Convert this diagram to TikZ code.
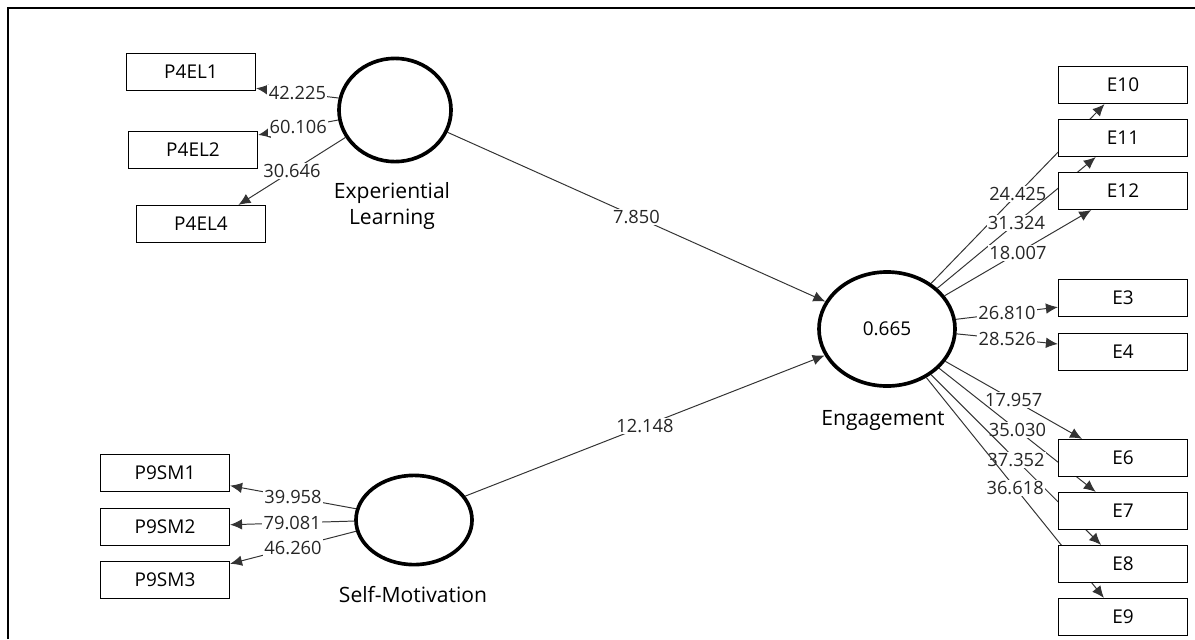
\documentclass[tikz,border=0pt]{standalone}
\usepackage{fontspec}
\setmainfont{Open Sans}
\usetikzlibrary{shapes.geometric,arrows.meta,backgrounds}

\begin{document}
\begin{tikzpicture}[x=0.025cm,y=-0.025cm,
  font=\fontsize{13.5}{19}\selectfont,
  latent/.style={ellipse,draw,line width=2.6pt,fill=white,inner sep=0pt},
  lvname/.style={align=center,font=\fontsize{15}{18.5}\selectfont},
  indicator/.style={rectangle,draw,line width=1pt,fill=white,inner sep=0pt,
    minimum width=3.22cm,minimum height=0.92cm},
  link/.style={-{Latex[length=8.5pt,width=7.5pt]},line width=0.7pt,black!80},
  val/.style={fill=white,inner sep=1pt,text=black!85,font=\fontsize{13}{15}\selectfont}]
  \useasboundingbox (0,0) rectangle (1195,639);
  \draw[line width=1.4pt] (8,639) -- (8,8) -- (1195,8);

  % latent variables
  \node[latent,minimum width=2.8cm,minimum height=2.58cm] (el) at (395,110) {};
  \node[latent,minimum width=3.4cm,minimum height=2.85cm] (eng) at (887,329) {0.665};
  \node[latent,minimum width=2.9cm,minimum height=2.23cm] (sm) at (414,520) {};
  \node[lvname] (elname) at (392,206) {Experiential\\Learning};
  \node[lvname] (engname) at (883,420) {Engagement};
  \node[lvname] (smname) at (413,595) {Self-Motivation};

  % indicators
  \node[indicator] (p4el1) at (191,72) {P4EL1};
  \node[indicator] (p4el2) at (193,150) {P4EL2};
  \node[indicator] (p4el4) at (201,224) {P4EL4};
  \node[indicator] (p9sm1) at (165,473) {P9SM1};
  \node[indicator] (p9sm2) at (165,527) {P9SM2};
  \node[indicator] (p9sm3) at (165,580) {P9SM3};
  \node[indicator] (e10) at (1123,85) {E10};
  \node[indicator] (e11) at (1123,138) {E11};
  \node[indicator] (e12) at (1123,191) {E12};
  \node[indicator] (e3) at (1123,298) {E3};
  \node[indicator] (e4) at (1123,352) {E4};
  \node[indicator] (e6) at (1123,458) {E6};
  \node[indicator] (e7) at (1123,511) {E7};
  \node[indicator] (e8) at (1123,564) {E8};
  \node[indicator] (e9) at (1123,617) {E9};

  \begin{scope}[on background layer]
    \draw[link] (el.168) -- (p4el1.-14) node[val,midway] {42.225};
    \draw[link] (el.190) -- (p4el2.13) node[val,midway] {60.106};
    \draw[link] (el.209.5) -- (p4el4.27.8) node[val,midway] {30.646};
    \draw[link] (sm.169) -- (p9sm1.-11.5) node[val,midway] {39.958};
    \draw[link] (sm.181) -- (p9sm2.2) node[val,midway] {79.081};
    \draw[link] (sm.191.7) -- (p9sm3.14.9) node[val,midway] {46.260};

    \draw[link] (el.-23.6) -- (eng.156.4) node[val,midway] {7.850};
    \draw[link] (sm.25.3) -- (eng.203.6) node[val,midway] {12.148};

    \draw[link] (eng.46.8) -- (e10.226.5) node[val,midway] {24.425};
    \draw[link] (eng.39.7) -- (e11.215.5) node[val,midway] {31.324};
    \draw[link] (eng.30.5) -- (e12.211) node[val,midway] {18.007};
    \draw[link] (eng.8.6) -- (e3.188.7) node[val,midway] {26.810};
    \draw[link] (eng.-4.7) -- (e4.173.9) node[val,midway] {28.526};
    \draw[link] (eng.-29.5) -- (e6.155) node[val,midway] {17.957};
    \draw[link] (eng.-37.7) -- (e7.145.8) node[val,midway] {35.030};
    \draw[link] (eng.-46.2) -- (e8.139.4) node[val,midway] {37.352};
    \draw[link] (eng.-51.2) -- (e9.135) node[val,midway] {36.618};
  \end{scope}
\end{tikzpicture}
\end{document}
